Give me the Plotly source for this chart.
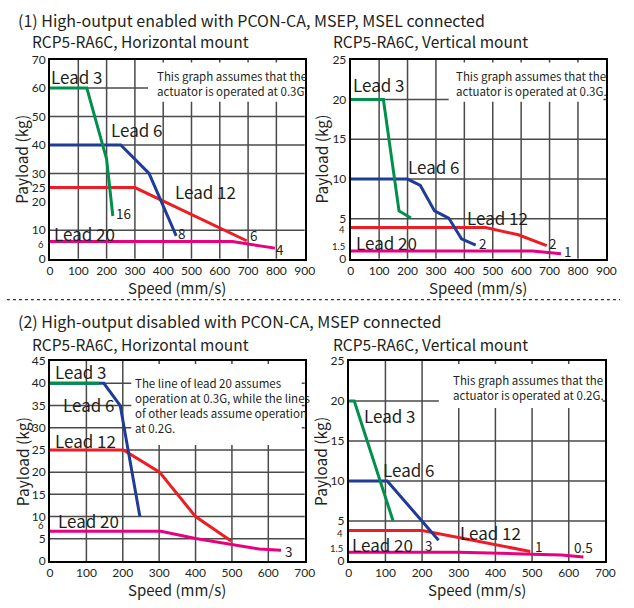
import plotly.graph_objects as go

W, H = 634, 608
def P(x): return x / W
def Q(y): return 1 - y / H

GREEN = "#00904c"
BLUE = "#1f3c98"
RED = "#ee1c24"
MAG = "#e8007f"
GRID = "#4a4a4a"
SANS = "Noto Sans CJK SC, Lato, sans-serif"
TICKF = "Lato, Noto Sans, sans-serif"

# ---------------- data ----------------
# (1) High-output enabled, horizontal mount
tl_lead3_x = [0, 130, 200, 222]
tl_lead3_y = [60, 60, 35, 15]
tl_lead6_x = [0, 250, 350, 446]
tl_lead6_y = [40, 40, 30, 8]
tl_lead12_x = [0, 300, 695]
tl_lead12_y = [25, 25, 6.3]
tl_lead20_x = [0, 645, 795]
tl_lead20_y = [6, 6, 3.7]

# (1) High-output enabled, vertical mount
tr_lead3_x = [0, 115, 170, 212]
tr_lead3_y = [20, 20, 6, 5.1]
tr_lead6_x = [0, 200, 245, 295, 345, 390, 440]
tr_lead6_y = [10, 10, 9.2, 6, 5.1, 2.5, 1.7]
tr_lead12_x = [0, 475, 590, 690]
tr_lead12_y = [3.9, 3.9, 3, 1.65]
tr_lead20_x = [0, 640, 740]
tr_lead20_y = [0.95, 0.95, 0.63]

# (2) High-output disabled, horizontal mount
bl_lead3_x = [0, 135]
bl_lead3_y = [40, 40]
bl_lead6_x = [0, 148, 193, 247]
bl_lead6_y = [40, 40, 35, 10]
bl_lead12_x = [0, 202, 301, 400, 498]
bl_lead12_y = [25, 25, 20, 10, 4.5]
bl_lead20_x = [0, 305, 400, 498, 575, 635]
bl_lead20_y = [6.7, 6.7, 5.05, 3.8, 2.7, 2.4]

# (2) High-output disabled, vertical mount
br_lead3_x = [0, 15, 121]
br_lead3_y = [20, 20, 5]
br_lead6_x = [0, 105, 245]
br_lead6_y = [10, 10, 2.6]
br_lead12_x = [0, 200, 303, 495]
br_lead12_y = [3.8, 3.8, 2.9, 1.2]
br_lead20_x = [0, 300, 500, 580, 640]
br_lead20_y = [1.1, 1.1, 0.85, 0.75, 0.5]

# ticks / grid
x_ticks_900 = [0, 100, 200, 300, 400, 500, 600, 700, 800, 900]
x_ticks_700 = [0, 100, 200, 300, 400, 500, 600, 700]
tl_y_ticks = [0, 10, 20, 25, 30, 40, 50, 60, 70]
tl_y_grid = [10, 30, 40, 50, 60]
tr_y_ticks = [0, 5, 10, 15, 20, 25]
tr_y_grid = [5, 10, 15, 20]
bl_y_ticks = [0, 5, 10, 15, 20, 25, 30, 35, 40, 45]
bl_y_grid = [5, 10, 15, 20, 25, 30, 35, 40]
br_y_ticks = [0, 5, 10, 15, 20, 25]
br_y_grid = [5, 10, 15, 20]
x_grid_900 = [100, 200, 300, 400, 500, 600, 700, 800]
x_grid_700 = [100, 200, 300, 400, 500, 600]

fig = go.Figure()

panels = [
    ("", (48, 308), (53, 257), [0, 900], [0, 70], x_ticks_900, tl_y_ticks, x_grid_900, tl_y_grid,
     [(tl_lead20_x, tl_lead20_y, MAG), (tl_lead12_x, tl_lead12_y, RED),
      (tl_lead6_x, tl_lead6_y, BLUE), (tl_lead3_x, tl_lead3_y, GREEN)]),
    ("2", (355, 616), (53, 257), [0, 900], [0, 25], x_ticks_900, tr_y_ticks, x_grid_900, tr_y_grid,
     [(tr_lead20_x, tr_lead20_y, MAG), (tr_lead12_x, tr_lead12_y, RED),
      (tr_lead6_x, tr_lead6_y, BLUE), (tr_lead3_x, tr_lead3_y, GREEN)]),
    ("3", (48, 308), (362, 567), [0, 700], [0, 45], x_ticks_700, bl_y_ticks, x_grid_700, bl_y_grid,
     [(bl_lead20_x, bl_lead20_y, MAG), (bl_lead12_x, bl_lead12_y, RED),
      (bl_lead6_x, bl_lead6_y, BLUE), (bl_lead3_x, bl_lead3_y, GREEN)]),
    ("4", (353, 615), (362, 567), [0, 700], [0, 25], x_ticks_700, br_y_ticks, x_grid_700, br_y_grid,
     [(br_lead20_x, br_lead20_y, MAG), (br_lead12_x, br_lead12_y, RED),
      (br_lead6_x, br_lead6_y, BLUE), (br_lead3_x, br_lead3_y, GREEN)]),
]

shapes = []
layout_axes = {}
for suf, xd, yd, xr, yr, xt, yt, xg, yg, series in panels:
    xa = "x" + suf
    ya = "y" + suf
    for xs, ys, col in series:
        fig.add_trace(go.Scatter(x=xs, y=ys, mode="lines", xaxis=xa, yaxis=ya,
                                 line=dict(color=col, width=3), showlegend=False,
                                 hoverinfo="skip"))
    common = dict(showline=True, mirror=True, linecolor="black", linewidth=2,
                  showgrid=False, zeroline=False, ticks="",
                  tickfont=dict(family=TICKF, size=12, color="#231f20"))
    layout_axes["xaxis" + suf] = dict(common, domain=[P(xd[0]), P(xd[1])], range=xr,
                                      anchor=ya, tickvals=xt, ticktext=[str(v) for v in xt])
    layout_axes["yaxis" + suf] = dict(common, domain=[Q(yd[1]), Q(yd[0])], range=yr,
                                      anchor=xa, tickvals=yt, ticktext=[str(v) for v in yt])
    for gx in xg:
        shapes.append(dict(type="line", xref=xa, yref=ya + " domain", x0=gx, x1=gx, y0=0, y1=1,
                           line=dict(color=GRID, width=1.5), layer="below"))
    for gy in yg:
        shapes.append(dict(type="line", xref=xa + " domain", yref=ya, x0=0, x1=1, y0=gy, y1=gy,
                           line=dict(color=GRID, width=1.5), layer="below"))

# white boxes behind the notes (they hide the grid)
for (x0, y0, x1, y1) in [(148, 56, 305, 96), (455, 56, 613, 96), (131, 365, 305, 448), (445, 365, 612, 410)]:
    shapes.append(dict(type="rect", xref="paper", yref="paper", x0=P(x0), x1=P(x1), y0=Q(y1), y1=Q(y0),
                       fillcolor="white", line=dict(width=0), layer="below"))

# dotted separator
shapes.append(dict(type="line", xref="paper", yref="paper", x0=P(4), x1=P(630), y0=Q(299), y1=Q(299),
                   line=dict(color="#333", width=1.2, dash="dot")))

annotations = []
def txt(x, y, s, size=15, family=SANS, xanchor="center", yanchor="middle", align="center", angle=0, color="#231f20"):
    annotations.append(dict(x=P(x), y=Q(y), xref="paper", yref="paper", text=s, showarrow=False,
                            xanchor=xanchor, yanchor=yanchor, align=align, textangle=angle,
                            borderpad=0, font=dict(family=family, size=size, color=color)))

# titles
txt(14, 12, "(1) High-output enabled with PCON-CA, MSEP, MSEL connected", size=16, xanchor="left")
txt(29, 34, "RCP5-RA6C, Horizontal mount", size=15.5, xanchor="left")
txt(336, 34, "RCP5-RA6C, Vertical mount", size=15.5, xanchor="left")
txt(14, 321, "(2) High-output disabled with PCON-CA, MSEP connected", size=16, xanchor="left")
txt(29, 345, "RCP5-RA6C, Horizontal mount", size=15.5, xanchor="left")
txt(336, 345, "RCP5-RA6C, Vertical mount", size=15.5, xanchor="left")

# axis titles
for xc, yc in [(19, 155), (325, 155), (19, 465), (323, 465)]:
    txt(xc, yc, "Payload (kg)", size=15.5, angle=-90)
for xc, yc in [(178, 287), (485, 287), (178, 596), (484, 596)]:
    txt(xc, yc, "Speed (mm/s)", size=15)

# notes
NS = 11.5
txt(156, 77, "This graph assumes that the<br>actuator is operated at 0.3G.", size=NS, xanchor="left", align="left")
txt(461, 77, "This graph assumes that the<br>actuator is operated at 0.3G.", size=NS, xanchor="left", align="left")
txt(134, 408, "The line of lead 20 assumes<br>operation at 0.3G, while the lines<br>of other leads assume operation<br>at 0.2G.", size=NS, xanchor="left", align="left")
txt(458, 389, "This graph assumes that the<br>actuator is operated at 0.2G.", size=NS, xanchor="left", align="left")

# lead labels
for x, y, s in [(76, 70, "Lead 3"), (137, 125, "Lead 6"), (207, 188, "Lead 12"), (83, 231, "Lead 20"),
                (384, 78, "Lead 3"), (440, 163, "Lead 6"), (505, 215, "Lead 12"), (392, 240, "Lead 20"),
                (80, 373, "Lead 3"), (88, 407, "Lead 6"), (84, 443, "Lead 12"), (87, 525, "Lead 20"),
                (395, 418, "Lead 3"), (415, 473, "Lead 6"), (498, 538, "Lead 12"), (387, 550, "Lead 20")]:
    txt(x, y, s, size=17)

# end-of-line values
for x, y, s in [(123, 210, "16"), (183, 231, "8"), (256, 233, "6"), (283, 247, "4"),
                (490, 241, "2"), (562, 241, "2"), (577, 249, "1"),
                (292, 557, "3"),
                (435, 551, "3"), (547, 552, "1"), (593, 553, "0.5")]:
    txt(x, y, s, size=13.5)

# small extra y labels
for x, y, s in [(43, 242, "6"), (350, 227, "4"), (350, 245, "1.5"), (43, 531, "6"), (348, 539, "4"), (348, 554, "1.5")]:
    txt(x, y, s, size=9.5, family=TICKF, xanchor="right")

fig.update_layout(width=W, height=H, margin=dict(l=0, r=0, t=0, b=0),
                  paper_bgcolor="white", plot_bgcolor="white",
                  shapes=shapes, annotations=annotations, **layout_axes)
fig.write_html("out.html", config={"displayModeBar": False},
               post_script="document.body.style.margin='0';document.body.style.overflow='hidden';")
